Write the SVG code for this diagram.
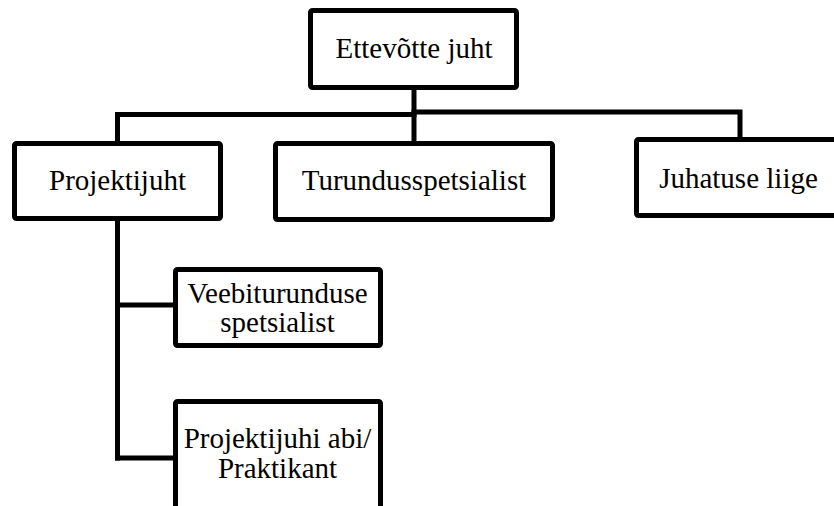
<svg xmlns="http://www.w3.org/2000/svg" width="834" height="506" viewBox="0 0 834 506">
<style>
.box{fill:#fff;stroke:#000;stroke-width:5;stroke-linejoin:round}
.lbl{font-family:'Liberation Serif','Times New Roman',Times,serif;font-size:29px;fill:#000;text-anchor:middle}
.con{fill:none;stroke:#000;stroke-width:5;stroke-linejoin:miter;stroke-linecap:square}
</style>
<rect width="834" height="506" fill="#fff"/>
<g id="connectors">
<path class="con" d="M414,90 V141"/>
<path class="con" d="M414,114.5 H117.5 V141"/>
<path class="con" d="M414,112 H740 V137"/>
<path class="con" d="M117.5,221 V458"/>
<path class="con" d="M117.5,305 H173"/>
<path class="con" d="M117.5,458 H173"/>
</g>
<g id="n-ettevotte-juht">
<rect class="box" x="310.5" y="10.5" width="206" height="77" rx="2"/>
<text class="lbl" x="414" y="58">Ettevõtte juht</text>
</g>
<g id="n-projektijuht">
<rect class="box" x="14.5" y="143.5" width="206" height="75" rx="2"/>
<text class="lbl" x="117.5" y="190">Projektijuht</text>
</g>
<g id="n-turundusspetsialist">
<rect class="box" x="275.5" y="143.5" width="277" height="76" rx="2"/>
<text class="lbl" x="414" y="190">Turundusspetsialist</text>
</g>
<g id="n-juhatuse-liige">
<rect class="box" x="636.5" y="139.5" width="220" height="76" rx="2"/>
<text class="lbl" x="738.5" y="188">Juhatuse liige</text>
</g>
<g id="n-veebiturunduse">
<rect class="box" x="175.5" y="269.5" width="205" height="76" rx="2"/>
<text class="lbl" x="277.5" y="303">Veebiturunduse</text>
<text class="lbl" x="277.5" y="332">spetsialist</text>
</g>
<g id="n-projektijuhi-abi">
<rect class="box" x="175.5" y="401.5" width="205" height="120" rx="2"/>
<text class="lbl" x="277.5" y="448">Projektijuhi abi/</text>
<text class="lbl" x="277.5" y="478">Praktikant</text>
</g>
</svg>
